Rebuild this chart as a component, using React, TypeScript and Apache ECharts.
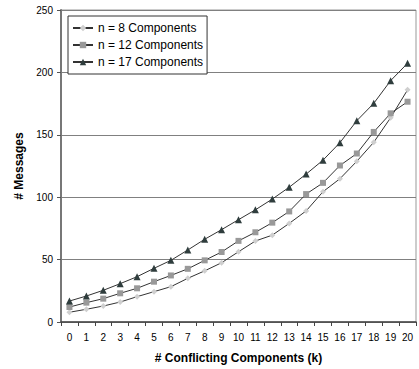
import React, { useEffect, useRef } from "react";
import * as echarts from "echarts";

const categories = ["0","1","2","3","4","5","6","7","8","9","10","11","12","13","14","15","16","17","18","19","20"];
const seriesNames = ["n = 8 Components", "n = 12 Components", "n = 17 Components"];
const n8 = [7.8, 10.2, 12.8, 16, 20.3, 24.3, 28.3, 35, 41, 47.5, 56.3, 64.9, 69.6, 79, 89, 104.4, 114.8, 128.8, 144, 163.7, 186];
const n12 = [12, 15.5, 18.7, 23, 27, 32.3, 37.3, 42.6, 49.4, 56.1, 65, 71.9, 79.6, 88.6, 102.5, 111.5, 125.4, 135, 152.3, 167.2, 176.5];
const n17 = [16.8, 20.8, 25.4, 30.7, 36.3, 43, 49.4, 57.7, 66.3, 74, 82, 89.9, 98.5, 108, 118.5, 129.7, 143.7, 161.3, 175.2, 193.4, 207.3];
const yTicks = [0, 50, 100, 150, 200, 250];

export default function App() {
  const ref = useRef<HTMLDivElement>(null);
  useEffect(() => {
    if (!ref.current) return;
    const chart = echarts.init(ref.current, undefined, { renderer: "svg" });
    const font = "Liberation Sans, Arial, sans-serif";
    const mk = (name: string, data: number[], symbol: string, size: number, color: string) => ({
      name,
      type: "line",
      data,
      symbol,
      symbolSize: size,
      showSymbol: true,
      lineStyle: { color: "#333", width: 1 },
      itemStyle: { color, borderWidth: 0 },
      emphasis: { disabled: true },
    });
    chart.setOption({
      animation: false,
      backgroundColor: "#fff",
      textStyle: { fontFamily: font },
      grid: { left: 61, right: 3, top: 10, bottom: 47, show: true, borderColor: "#999", borderWidth: 1 },
      legend: {
        left: 68,
        top: 16,
        orient: "vertical",
        itemWidth: 20,
        itemHeight: 8,
        itemGap: 5,
        padding: [6, 4, 6, 4],
        borderColor: "#333",
        borderWidth: 1,
        backgroundColor: "#fff",
        textStyle: { fontSize: 12, color: "#000", fontFamily: font },
        data: seriesNames,
      },
      xAxis: {
        type: "category",
        data: categories,
        boundaryGap: true,
        name: "# Conflicting Components (k)",
        nameLocation: "middle",
        nameGap: 30,
        nameTextStyle: { fontSize: 12, fontWeight: "bold", color: "#000", fontFamily: font },
        axisLine: { lineStyle: { color: "#444", width: 1.5 } },
        axisTick: { show: true, inside: false, length: 4, alignWithLabel: false, lineStyle: { color: "#444" } },
        axisLabel: { fontSize: 10, color: "#000", margin: 10, interval: 0, fontFamily: font },
        splitLine: { show: false },
      },
      yAxis: {
        type: "value",
        min: yTicks[0],
        max: yTicks[yTicks.length - 1],
        interval: 50,
        name: "# Messages",
        nameLocation: "middle",
        nameGap: 31,
        nameTextStyle: { fontSize: 12, fontWeight: "bold", color: "#000", fontFamily: font },
        axisLine: { show: true, lineStyle: { color: "#777", width: 2 } },
        axisTick: { show: true, length: 4, lineStyle: { color: "#555" } },
        axisLabel: { fontSize: 10, color: "#000", margin: 8, fontFamily: font },
        splitLine: { show: true, lineStyle: { color: "#808080", width: 1 } },
      },
      series: [
        mk(seriesNames[0], n8, "diamond", 6, "#cfcfcf"),
        mk(seriesNames[1], n12, "rect", 6, "#999999"),
        mk(seriesNames[2], n17, "triangle", 7, "#2f3d3d"),
      ],
    });
    return () => chart.dispose();
  }, []);
  return <div ref={ref} style={{ position: "fixed", left: 0, top: 0, width: 419, height: 369 }} />;
}
